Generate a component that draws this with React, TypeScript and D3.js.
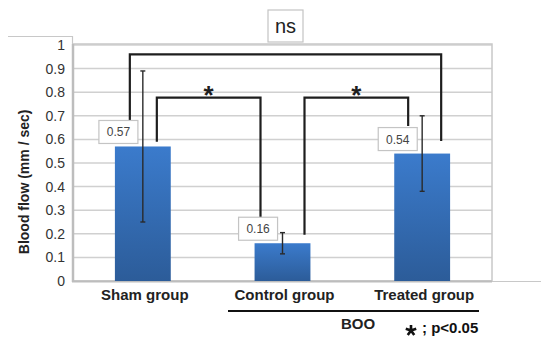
import React from 'react';
import * as d3 from 'd3';

// chart data
const categories = ['Sham group', 'Control group', 'Treated group'];
const values = [0.57, 0.16, 0.54];
const errors = [0.32, 0.045, 0.16];
const yTicks = [0, 0.1, 0.2, 0.3, 0.4, 0.5, 0.6, 0.7, 0.8, 0.9, 1];
const valueLabels = ['0.57', '0.16', '0.54'];

// significance brackets: from/to category index, top level, leg end levels
const bracketPairs = [[0, 1], [1, 2], [0, 2]];
const bracketLabels = ['*', '*', 'ns'];
const bracketTops = [0.777, 0.777, 0.96];
const bracketLegs = [[0.59, 0.27], [0.196, 0.657], [0.678, 0.593]];
const bracketOffsets = [[14, -22], [22, -14], [-13, 19]];

const width = 541;
const height = 338;
const font = '"Liberation Sans", Arial, Helvetica, sans-serif';

// five armed asterisk drawn as a path (legend marker)
const asterisk = (cx: number, cy: number, r: number) =>
    d3.range(5).map(k => {
        const a = -Math.PI / 2 + k * 2 * Math.PI / 5;
        return `M${cx},${cy} L${cx + r * Math.cos(a)},${cy + r * Math.sin(a)}`;
    }).join(' ');

const App = () => {
    const x = d3.scaleBand<string>()
        .domain(categories)
        .range([73, 492])
        .paddingInner(0.6)
        .paddingOuter(0.3);
    const y = d3.scaleLinear().domain([0, 1]).range([281, 45]);
    const bw = x.bandwidth();
    const cx = (i: number) => (x(categories[i]) as number) + bw / 2;

    return (
        <svg width={width} height={height} style={{position: 'absolute', left: 0, top: 0, background: '#fff'}}
             fontFamily={font}>
            <defs>
                <linearGradient id="barFill" x1="0" y1="0" x2="0" y2="1">
                    <stop offset="0%" stopColor="#3b7bcc"/>
                    <stop offset="100%" stopColor="#2c5c99"/>
                </linearGradient>
            </defs>

            {/* outer frame remnants */}
            <path d="M8,36.5 H72.5 V44" fill="none" stroke="#c8c8c8" strokeWidth={1.2}/>
            <line x1={492} x2={541} y1={281.5} y2={281.5} stroke="#c8c8c8" strokeWidth={1.2}/>

            {/* gridlines */}
            {yTicks.map(t => (
                <line key={t} x1={73} x2={492} y1={y(t)} y2={y(t)} stroke="#d0d0d0" strokeWidth={1.5}/>
            ))}
            <rect x={73} y={44} width={419} height={237} fill="none" stroke="#c8c8c8" strokeWidth={1.5}/>
            <line x1={73} x2={73} y1={44} y2={282} stroke="#bdbdbd" strokeWidth={2.5}/>
            <line x1={72} x2={492} y1={281.5} y2={281.5} stroke="#bdbdbd" strokeWidth={2}/>

            {/* tick labels */}
            {yTicks.map(t => (
                <text key={t} x={65} y={y(t) + 5} textAnchor="end" fontSize={14} fill="#333">
                    {d3.format('~g')(t)}
                </text>
            ))}

            {/* bars */}
            {values.map((v, i) => (
                <rect key={i} x={x(categories[i])} y={y(v)} width={bw} height={y(0) - y(v)} fill="url(#barFill)"/>
            ))}

            {/* error bars */}
            {values.map((v, i) => (
                <g key={i} stroke="#2a2a2a" strokeWidth={1.4}>
                    <line x1={cx(i)} x2={cx(i)} y1={y(v + errors[i])} y2={y(v - errors[i])}/>
                    <line x1={cx(i) - 2.5} x2={cx(i) + 2.5} y1={y(v + errors[i])} y2={y(v + errors[i])}/>
                    <line x1={cx(i) - 2.5} x2={cx(i) + 2.5} y1={y(v - errors[i])} y2={y(v - errors[i])}/>
                </g>
            ))}

            {/* brackets */}
            {bracketPairs.map(([a, b], k) => {
                const xa = cx(a) + bracketOffsets[k][0];
                const xb = cx(b) + bracketOffsets[k][1];
                const top = y(bracketTops[k]);
                return (
                    <path key={k} d={`M${xa},${y(bracketLegs[k][0])} V${top} H${xb} V${y(bracketLegs[k][1])}`}
                          fill="none" stroke="#1e1e1e" strokeWidth={2.2}/>
                );
            })}
            {bracketPairs.map(([a, b], k) => {
                const mid = (cx(a) + bracketOffsets[k][0] + cx(b) + bracketOffsets[k][1]) / 2;
                const top = y(bracketTops[k]);
                if (bracketLabels[k] === 'ns') {
                    return (
                        <g key={k}>
                            <rect x={268} y={10} width={35} height={32} fill="#fff" stroke="#c4c4c4" strokeWidth={1.2}/>
                            <text x={285.5} y={33} textAnchor="middle" fontSize={20} fill="#222">ns</text>
                        </g>
                    );
                }
                return (
                    <text key={k} x={mid} y={top + 6} textAnchor="middle" fontSize={26} fontWeight="bold"
                          fill="#1e1e1e">*</text>
                );
            })}

            {/* value labels */}
            {values.map((v, i) => {
                const bx = (x(categories[i]) as number) - 16;
                const by = y(v) - 26;
                return (
                    <g key={i}>
                        <rect x={bx} y={by} width={39} height={23} fill="#fff" stroke="#c4c4c4" strokeWidth={1.2}/>
                        <text x={bx + 19.5} y={by + 16} textAnchor="middle" fontSize={12} fill="#444">
                            {valueLabels[i]}
                        </text>
                    </g>
                );
            })}

            {/* x labels */}
            {categories.map((c, i) => (
                <text key={c} x={cx(i) + 2} y={300} textAnchor="middle" fontSize={15} fontWeight="bold" fill="#222">
                    {c}
                </text>
            ))}
            <line x1={228} x2={479} y1={311} y2={311} stroke="#111" strokeWidth={2}/>
            <text x={358} y={329} textAnchor="middle" fontSize={15} fontWeight="bold" fill="#222">BOO</text>
            <path d={asterisk(411, 330.5, 5.5)} stroke="#111" strokeWidth={2.6} fill="none"/>
            <text x={422} y={333} fontSize={15} fontWeight="bold" fill="#111">; p&lt;0.05</text>

            {/* y label */}
            <text transform={`translate(29,${y(0.42)}) rotate(-90)`} textAnchor="middle" fontSize={14}
                  fontWeight="bold" fill="#222">Blood flow (mm / sec)</text>
        </svg>
    );
};

export default App;
